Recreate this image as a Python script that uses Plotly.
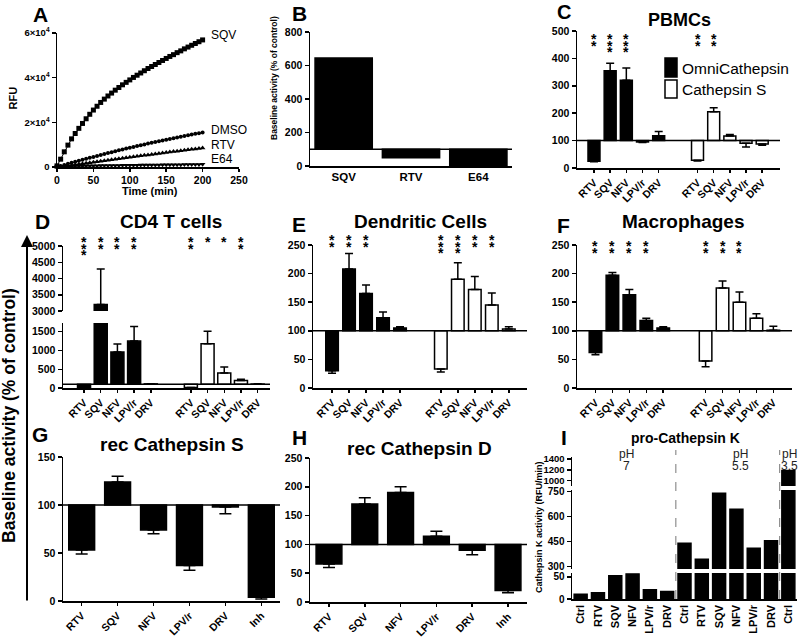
import plotly.graph_objects as go

W, H = 800, 638
FONT = "Liberation Sans, Arial, Helvetica, sans-serif"

# ---------------- data ----------------
time_min = list(range(0, 205, 5))
rfu_sqv = [500, 3500, 6800, 9800, 12600, 15000, 17300, 19500, 21600, 23600,
           25500, 27200, 28900, 30400, 31800, 33100, 34400, 35600, 36800, 37900,
           39000, 40100, 41100, 42100, 43100, 44100, 45000, 45900, 46800, 47700,
           48600, 49500, 50300, 51200, 52000, 52900, 53700, 54500, 55300, 56100, 56900]
rfu_dmso = [0, 500, 950, 1400, 1850, 2300, 2750, 3200, 3650, 4100,
            4500, 4950, 5400, 5800, 6250, 6650, 7050, 7450, 7850, 8250,
            8650, 9000, 9400, 9750, 10100, 10500, 10850, 11200, 11550, 11900,
            12250, 12550, 12900, 13250, 13550, 13900, 14200, 14550, 14850, 15150, 15450]
rfu_rtv = [0, 200, 400, 600, 820, 1040, 1260, 1480, 1700, 1920,
           2140, 2360, 2580, 2800, 3020, 3240, 3460, 3680, 3900, 4120,
           4340, 4560, 4780, 5000, 5210, 5420, 5630, 5840, 6050, 6260,
           6470, 6680, 6890, 7100, 7300, 7500, 7700, 7900, 8100, 8300, 8500]
rfu_e64 = [200, 250, 300, 340, 380, 420, 450, 480, 510, 540,
           570, 600, 620, 640, 660, 680, 700, 720, 740, 760,
           780, 800, 820, 840, 860, 880, 900, 920, 940, 960,
           980, 1000, 1020, 1040, 1060, 1080, 1100, 1120, 1140, 1160, 1180]

b_labels = ["SQV", "RTV", "E64"]
b_values = [645, 50, 2]

drugs5 = ["RTV", "SQV", "NFV", "LPV/r", "DRV"]

pbmc_omni = [25, 355, 320, 95, 118]
pbmc_omni_sem = [2, 27, 45, 2, 15]
pbmc_cats = [28, 205, 117, 90, 88]
pbmc_cats_sem = [2, 15, 5, 13, 5]
pbmc_omni_stars = [2, 3, 3, 0, 0]
pbmc_cats_stars = [2, 2, 0, 0, 0]

cd4_omni = [10, 3200, 960, 1250, 110]
cd4_omni_sem = [0, 1090, 210, 390, 0]
cd4_cats = [10, 1180, 400, 200, 105]
cd4_cats_sem = [0, 330, 160, 30, 5]
cd4_omni_stars = [3, 2, 2, 2, 0]
cd4_cats_stars = [2, 1, 1, 2, 0]

dc_omni = [30, 208, 165, 123, 105]
dc_omni_sem = [4, 27, 15, 10, 2]
dc_cats = [33, 190, 172, 145, 103]
dc_cats_sem = [5, 29, 23, 21, 4]
dc_omni_stars = [2, 2, 2, 0, 0]
dc_cats_stars = [3, 3, 2, 2, 0]

mac_omni = [62, 197, 163, 118, 105]
mac_omni_sem = [4, 5, 9, 4, 2]
mac_cats = [47, 175, 150, 122, 101]
mac_cats_sem = [10, 12, 18, 8, 7]
mac_omni_stars = [2, 2, 2, 2, 0]
mac_cats_stars = [2, 2, 2, 0, 0]

rec_labels = ["RTV", "SQV", "NFV", "LPV/r", "DRV", "Inh"]
recS_values = [53, 124, 74, 37, 98, 4]
recS_sem = [4, 6, 4, 5, 7, 2]
recD_values = [66, 170, 190, 114, 90, 20]
recD_sem = [6, 11, 10, 9, 8, 4]

k_labels = ["Ctrl", "RTV", "SQV", "NFV", "LPV/r", "DRV",
            "Ctrl", "RTV", "SQV", "NFV", "LPV/r", "DRV", "Ctrl"]
k_values = [11, 14, 53, 57, 21, 17, 440, 344, 740, 645, 410, 456, 1190]

# ---------------- helpers ----------------
POS1 = [0, 1, 2, 3, 4]
POS2 = [6.4, 7.4, 8.4, 9.4, 10.4]


def xdom(a, b):
    return [a / W, b / W]


def ydom(top, bot):
    return [1 - bot / H, 1 - top / H]


def px(x):
    return x / W


def py(y):
    return 1 - y / H


def axis(domain, rng, anchor, tickvals=None, ticktext=None, ticks="outside",
         size=10.5, angle=None, showline=True, showticklabels=True, ticklen=4):
    d = dict(domain=domain, range=rng, anchor=anchor, showline=showline,
             linecolor="black", linewidth=1.5, ticks=ticks, ticklen=ticklen,
             tickwidth=1.5, tickcolor="black", showgrid=False, zeroline=False,
             tickfont=dict(family=FONT, size=size, color="black", weight="bold"),
             fixedrange=True, showticklabels=showticklabels, automargin=False)
    if tickvals is not None:
        d["tickmode"] = "array"
        d["tickvals"] = tickvals
    if ticktext is not None:
        d["ticktext"] = ticktext
    if angle is not None:
        d["tickangle"] = angle
    return d


fig = go.Figure()
annotations = []
shapes = []


def ann(text, x, y, size, bold=True, xanchor="center", yanchor="middle",
        xref="paper", yref="paper", angle=0, color="black"):
    annotations.append(dict(text=text, x=x, y=y, xref=xref, yref=yref,
                            xanchor=xanchor, yanchor=yanchor, showarrow=False,
                            textangle=angle,
                            font=dict(family=FONT, size=size, color=color,
                                      weight="bold" if bold else "normal")))


def bars(xs, vals, xa, ya, fill, width, base=100):
    fig.add_trace(go.Bar(x=xs, y=[v - base for v in vals], base=base, width=width,
                         marker=dict(color=fill, line=dict(color="black", width=1.5)),
                         xaxis=xa, yaxis=ya, showlegend=False, hoverinfo="skip"))


def errs(xs, vals, sems, xa, ya, cap=4, base=100):
    up = [s if v >= base else 0 for v, s in zip(vals, sems)]
    dn = [0 if v >= base else s for v, s in zip(vals, sems)]
    fig.add_trace(go.Scatter(x=xs, y=vals, mode="markers",
                             marker=dict(size=1, color="rgba(0,0,0,0)"),
                             error_y=dict(type="data", symmetric=False, array=up,
                                          arrayminus=dn, color="black",
                                          thickness=1.5, width=cap),
                             xaxis=xa, yaxis=ya, showlegend=False, hoverinfo="skip"))


def base_line(xa, ya, yv=100):
    shapes.append(dict(type="line", xref=xa + " domain", x0=0, x1=1, yref=ya,
                       y0=yv, y1=yv, line=dict(color="black", width=1.5)))


def stars(xa, xs, counts, top_px, step=6.7):
    for xv, n in zip(xs, counts):
        for k in range(n):
            ann("*", xv, py(top_px + k * step + 4), 14, bold=True, xref=xa)


L = dict(width=W, height=H, margin=dict(l=0, r=0, t=0, b=0, autoexpand=False),
         paper_bgcolor="white", plot_bgcolor="white", showlegend=False,
         barmode="overlay", font=dict(family=FONT, color="black"))

# ---------------- Panel A ----------------
L["xaxis"] = axis(xdom(57, 239), [0, 250], "y", tickvals=[0, 50, 100, 150, 200, 250],
                  ticklen=3)
L["yaxis"] = axis(ydom(33, 167), [0, 60000], "x", tickvals=[0, 20000, 40000, 60000],
                  ticktext=["0", "2×10<sup>4</sup>", "4×10<sup>4</sup>", "6×10<sup>4</sup>"],
                  size=9.5)
for ys, sym, sz in [(rfu_sqv, "square", 5), (rfu_dmso, "circle", 4),
                    (rfu_rtv, "triangle-up", 5), (rfu_e64, "triangle-down", 5)]:
    fig.add_trace(go.Scatter(x=time_min, y=ys, mode="lines+markers",
                             line=dict(color="black", width=1),
                             marker=dict(symbol=sym, size=sz, color="black"),
                             xaxis="x", yaxis="y", cliponaxis=False,
                             showlegend=False, hoverinfo="skip"))
ann("SQV", px(209), py(35), 12, bold=False, xanchor="left")
ann("DMSO", px(209), py(130), 12, bold=False, xanchor="left")
ann("RTV", px(209), py(145), 12, bold=False, xanchor="left")
ann("E64", px(209), py(159), 12, bold=False, xanchor="left")
ann("RFU", px(12.5), py(98), 11, angle=-90)
ann("Time (min)", px(150), py(191), 11)
ann("A", px(40), py(14), 21)

# ---------------- Panel B ----------------
L["xaxis2"] = axis(xdom(310, 512), [-0.5, 2.5], "y2", tickvals=[0, 1, 2],
                   ticktext=b_labels, ticks="", size=11.5)
L["yaxis2"] = axis(ydom(32, 166), [0, 800], "x2", tickvals=[0, 200, 400, 600, 800])
bars([0, 1, 2], b_values, "x2", "y2", "black", 0.85)
base_line("x2", "y2")
ann("Baseline activity (% of control)", px(274), py(78), 8.5, angle=-90)
ann("B", px(299), py(13), 21)

# ---------------- Panel C ----------------
tv = POS1 + POS2
tt = drugs5 + drugs5
L["xaxis3"] = axis(xdom(577, 780), [-1.05, 11.5], "y3", tickvals=tv, ticktext=tt,
                   angle=-45, ticklen=3)
L["yaxis3"] = axis(ydom(31, 168), [0, 500], "x3", tickvals=[0, 100, 200, 300, 400, 500])
bars(POS1, pbmc_omni, "x3", "y3", "black", 0.74)
bars(POS2, pbmc_cats, "x3", "y3", "white", 0.74)
errs(POS1, pbmc_omni, pbmc_omni_sem, "x3", "y3")
errs(POS2, pbmc_cats, pbmc_cats_sem, "x3", "y3")
base_line("x3", "y3")
stars("x3", POS1, pbmc_omni_stars, 35)
stars("x3", POS2, pbmc_cats_stars, 35)
ann("PBMCs", px(679), py(20), 18)
ann("C", px(564), py(11.5), 20)
shapes.append(dict(type="rect", xref="paper", yref="paper", x0=px(665), x1=px(677),
                   y0=py(77), y1=py(58), fillcolor="black", line=dict(color="black", width=1.5)))
shapes.append(dict(type="rect", xref="paper", yref="paper", x0=px(665), x1=px(677),
                   y0=py(98), y1=py(80), fillcolor="white", line=dict(color="black", width=1.5)))
ann("OmniCathepsin", px(680), py(68), 15.5, bold=False, xanchor="left")
ann("Cathepsin S", px(680), py(89), 15.5, bold=False, xanchor="left")

# ---------------- Panel D (broken axis) ----------------
L["xaxis4"] = axis(xdom(63, 270), [-1.26, 11.14], "y4", tickvals=tv, ticktext=tt,
                   angle=-45, ticklen=3)
L["yaxis4"] = axis(ydom(323, 388), [0, 1733], "x4", tickvals=[0, 500, 1000, 1500])
L["yaxis5"] = axis(ydom(246, 311), [3000, 5000], "x4",
                   tickvals=[3000, 3500, 4000, 4500, 5000])
for ya in ("y4", "y5"):
    bars(POS1, cd4_omni, "x4", ya, "black", 0.78)
    bars(POS2, cd4_cats, "x4", ya, "white", 0.78)
    errs(POS1, cd4_omni, cd4_omni_sem, "x4", ya)
    errs(POS2, cd4_cats, cd4_cats_sem, "x4", ya)
base_line("x4", "y4")
stars("x4", POS1, cd4_omni_stars, 238)
stars("x4", POS2, cd4_cats_stars, 238)
ann("CD4 T cells", px(171), py(222), 19)
ann("D", px(42), py(222), 21)

# ---------------- Panel E ----------------
L["xaxis6"] = axis(xdom(313, 527), [-1.12, 11.47], "y6", tickvals=tv, ticktext=tt,
                   angle=-45, ticklen=3)
L["yaxis6"] = axis(ydom(245, 388), [0, 250], "x6", tickvals=[0, 50, 100, 150, 200, 250])
bars(POS1, dc_omni, "x6", "y6", "black", 0.74)
bars(POS2, dc_cats, "x6", "y6", "white", 0.74)
errs(POS1, dc_omni, dc_omni_sem, "x6", "y6")
errs(POS2, dc_cats, dc_cats_sem, "x6", "y6")
base_line("x6", "y6")
stars("x6", POS1, dc_omni_stars, 236)
stars("x6", POS2, dc_cats_stars, 236)
ann("Dendritic Cells", px(420), py(222), 19)
ann("E", px(299), py(224), 21)

# ---------------- Panel F ----------------
POS2F = [6.5, 7.5, 8.5, 9.5, 10.5]
L["xaxis7"] = axis(xdom(577, 792), [-1.09, 11.6], "y7", tickvals=POS1 + POS2F,
                   ticktext=tt, angle=-45, ticklen=3)
L["yaxis7"] = axis(ydom(245, 388), [0, 250], "x7", tickvals=[0, 50, 100, 150, 200, 250])
bars(POS1, mac_omni, "x7", "y7", "black", 0.74)
bars(POS2F, mac_cats, "x7", "y7", "white", 0.74)
errs(POS1, mac_omni, mac_omni_sem, "x7", "y7")
errs(POS2F, mac_cats, mac_cats_sem, "x7", "y7")
base_line("x7", "y7")
stars("x7", POS1, mac_omni_stars, 242)
stars("x7", POS2F, mac_cats_stars, 242)
ann("Macrophages", px(683), py(222), 19)
ann("F", px(563), py(226), 21)

# ---------------- Panel G ----------------
rp = list(range(6))
L["xaxis8"] = axis(xdom(63, 280), [-0.52, 5.52], "y8", tickvals=rp, ticktext=rec_labels,
                   angle=-45, size=10.5, ticklen=3)
L["yaxis8"] = axis(ydom(457, 601), [0, 150], "x8", tickvals=[0, 50, 100, 150])
bars(rp, recS_values, "x8", "y8", "black", 0.72)
errs(rp, recS_values, recS_sem, "x8", "y8", cap=6)
base_line("x8", "y8")
ann("rec Cathepsin S", px(172), py(444), 19)
ann("G", px(40), py(434), 21)

# ---------------- Panel H ----------------
L["xaxis9"] = axis(xdom(310, 527), [-0.53, 5.53], "y9", tickvals=rp, ticktext=rec_labels,
                   angle=-45, size=10.5, ticklen=3)
L["yaxis9"] = axis(ydom(458, 602), [0, 250], "x9", tickvals=[0, 50, 100, 150, 200, 250])
bars(rp, recD_values, "x9", "y9", "black", 0.72)
errs(rp, recD_values, recD_sem, "x9", "y9", cap=6)
base_line("x9", "y9")
ann("rec Cathepsin D", px(419), py(448), 19)
ann("H", px(299), py(437), 21)

# ---------------- Panel I (broken axis) ----------------
kp = list(range(13))
L["xaxis10"] = axis(xdom(572, 797), [-0.5, 12.5], "y10", tickvals=kp, ticktext=k_labels,
                    angle=-90, ticks="", size=11)
L["yaxis10"] = axis(ydom(573, 599), [0, 59], "x10", tickvals=[0, 50], size=10)
L["yaxis11"] = axis(ydom(490, 569), [286, 760], "x10", tickvals=[300, 450, 600, 750], size=10)
L["yaxis12"] = axis(ydom(457, 486), [902, 1437], "x10", tickvals=[1000, 1200, 1400], size=9.5)
for ya in ("y10", "y11", "y12"):
    bars(kp, k_values, "x10", ya, "black", 0.75, base=0)
for xv in (5.5, 11.5):
    shapes.append(dict(type="line", xref="x10", x0=xv, x1=xv, yref="paper",
                       y0=py(599), y1=py(450), line=dict(color="#777", width=1, dash="dash")))
ann("pH", 2.62, py(454), 12, bold=False, xref="x10", color="#222")
ann("7", 2.62, py(466), 12, bold=False, xref="x10", color="#222")
ann("pH", 9.21, py(454), 12, bold=False, xref="x10", color="#222")
ann("5.5", 9.21, py(466), 12, bold=False, xref="x10", color="#222")
ann("pH", 12.05, py(454), 12, bold=False, xref="x10", color="#222")
ann("3.5", 12.05, py(466), 12, bold=False, xref="x10", color="#222")
ann("pro-Cathepsin K", px(685), py(438), 14)
ann("I", px(563.5), py(437), 21)
ann("Cathepsin K activity (RFU/min)", px(539), py(527), 9, angle=-90)

# ---------------- shared left label & arrow ----------------
ann("Baseline activity (% of control)", px(9), py(416), 17.5, angle=-90)
annotations.append(dict(text="", x=px(27), y=py(235), ax=0, ay=367,
                        xref="paper", yref="paper", axref="pixel", ayref="pixel",
                        showarrow=True, arrowhead=2, arrowsize=1.2, arrowwidth=2,
                        arrowcolor="black"))

L["annotations"] = annotations
L["shapes"] = shapes
fig.update_layout(**L)
fig.write_html("out.html", config={"displayModeBar": False, "staticPlot": True},
               post_script="document.body.style.margin='0';document.body.style.padding='0';")
